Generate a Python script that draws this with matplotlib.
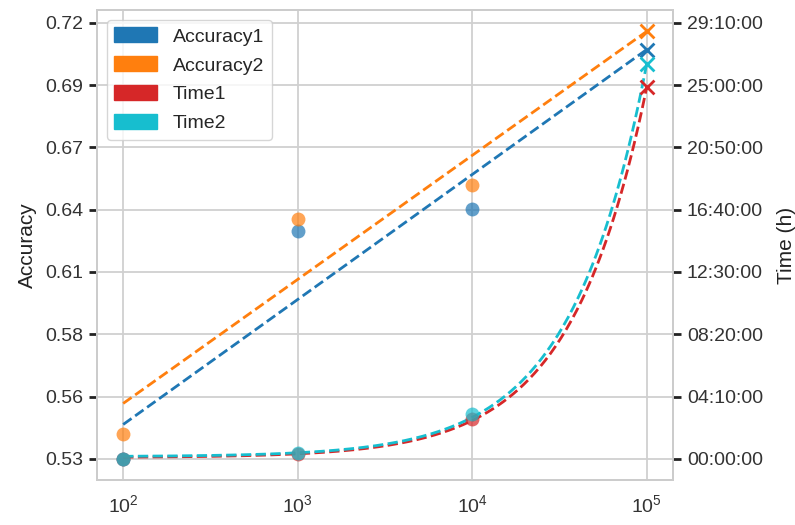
import matplotlib
matplotlib.use("Agg")
import matplotlib.pyplot as plt
import numpy as np
import seaborn as sns
from matplotlib.patches import Patch
from matplotlib.ticker import FuncFormatter, NullLocator

# ── data ──────────────────────────────────────────────────────────────────────
sizes = [1e2, 1e3, 1e4, 1e5]
acc1 = [0.5301, 0.6294, 0.6393, 0.7087]
acc2 = [0.5410, 0.6347, 0.6494, 0.7166]
time1 = [30, 1250, 9640, 89530]      # seconds
time2 = [30, 1300, 10840, 95130]     # seconds
acc_ticks = [0.53, 0.5572, 0.5844, 0.6116, 0.6388, 0.666, 0.6932, 0.7204]
time_ticks = [0, 15000, 30000, 45000, 60000, 75000, 90000, 105000]

sns.set_style("whitegrid")
plt.rcParams["font.family"] = ["Liberation Sans", "DejaVu Sans"]
plt.rcParams["mathtext.fontset"] = "custom"
plt.rcParams["mathtext.rm"] = "Liberation Sans"
plt.rcParams["mathtext.it"] = "Liberation Sans:italic"

C1, C2, C3, C4 = "tab:blue", "tab:orange", "tab:red", "tab:cyan"


def hms(v, pos=None):
    v = int(round(v))
    return f"{v // 3600:02d}:{(v % 3600) // 60:02d}:{v % 60:02d}"


fig, ax1 = plt.subplots(figsize=(7.95, 5.25), dpi=100)
fig.subplots_adjust(left=0.122, right=0.8465, top=0.981, bottom=0.0857)
ax2 = ax1.twinx()

x = np.array(sizes)
lx = np.log10(x)
xs = np.logspace(2, 5, 300)

# accuracy: observed points + linear fit in log(x)
for acc, col in [(acc1, C1), (acc2, C2)]:
    ax1.scatter(x[:3], acc[:3], s=100, color=col, alpha=0.7, lw=0, zorder=3)
    ax1.scatter(x[3], acc[3], s=100, marker="x", color=col, lw=2, zorder=3)
    k, b = np.polyfit(lx, acc, 1)
    ax1.plot(xs, k * np.log10(xs) + b, "--", color=col, lw=2)

# time: observed points + linear fit in x
for t, col in [(time1, C3), (time2, C4)]:
    ax2.scatter(x[:3], t[:3], s=100, color=col, alpha=0.7, lw=0, zorder=3)
    ax2.scatter(x[3], t[3], s=100, marker="x", color=col, lw=2, zorder=3)
    k, b = np.polyfit(x, t, 1)
    ax2.plot(xs, k * xs + b, "--", color=col, lw=2)

ax1.set_xscale("log")
ax1.set_xticks(sizes)
ax1.xaxis.set_minor_locator(NullLocator())

# align right axis with left axis ticks
lo, hi = ax1.get_ylim()
step_a = acc_ticks[1] - acc_ticks[0]
step_t = time_ticks[1] - time_ticks[0]
ax2.set_ylim((lo - acc_ticks[0]) / step_a * step_t,
             (hi - acc_ticks[0]) / step_a * step_t)
ax1.set_yticks(acc_ticks)
ax1.set_yticklabels([f"{v:.2f}" for v in acc_ticks])
ax1.set_ylim(lo, hi)
ax2.set_yticks(time_ticks)
ax2.yaxis.set_major_formatter(FuncFormatter(hms))
ax2.grid(False)

for ax in (ax1, ax2):
    for s in ax.spines.values():
        s.set_color("#cccccc")
        s.set_linewidth(1.3)
    ax.tick_params(axis="y", length=6, width=2, color="#222222",
                   labelsize=14, labelcolor="#333333", pad=4)
ax1.tick_params(axis="x", length=0, labelsize=14, labelcolor="#333333", pad=10)
ax1.grid(True, color="#d0d0d0", lw=1.3)

ax1.set_ylabel("Accuracy", fontsize=15, color="#222222", labelpad=6)
ax2.set_ylabel("Time (h)", fontsize=15, color="#222222", labelpad=10)

handles = [Patch(color=C1, label="Accuracy1"), Patch(color=C2, label="Accuracy2"),
           Patch(color=C3, label="Time1"), Patch(color=C4, label="Time2")]
leg = ax1.legend(handles=handles, loc="upper left", fontsize=14,
                 handlelength=2.2, handleheight=0.8, labelspacing=0.55,
                 borderaxespad=0.5, frameon=True)
leg.set_zorder(10)

fig.savefig("out.png", dpi=100)
